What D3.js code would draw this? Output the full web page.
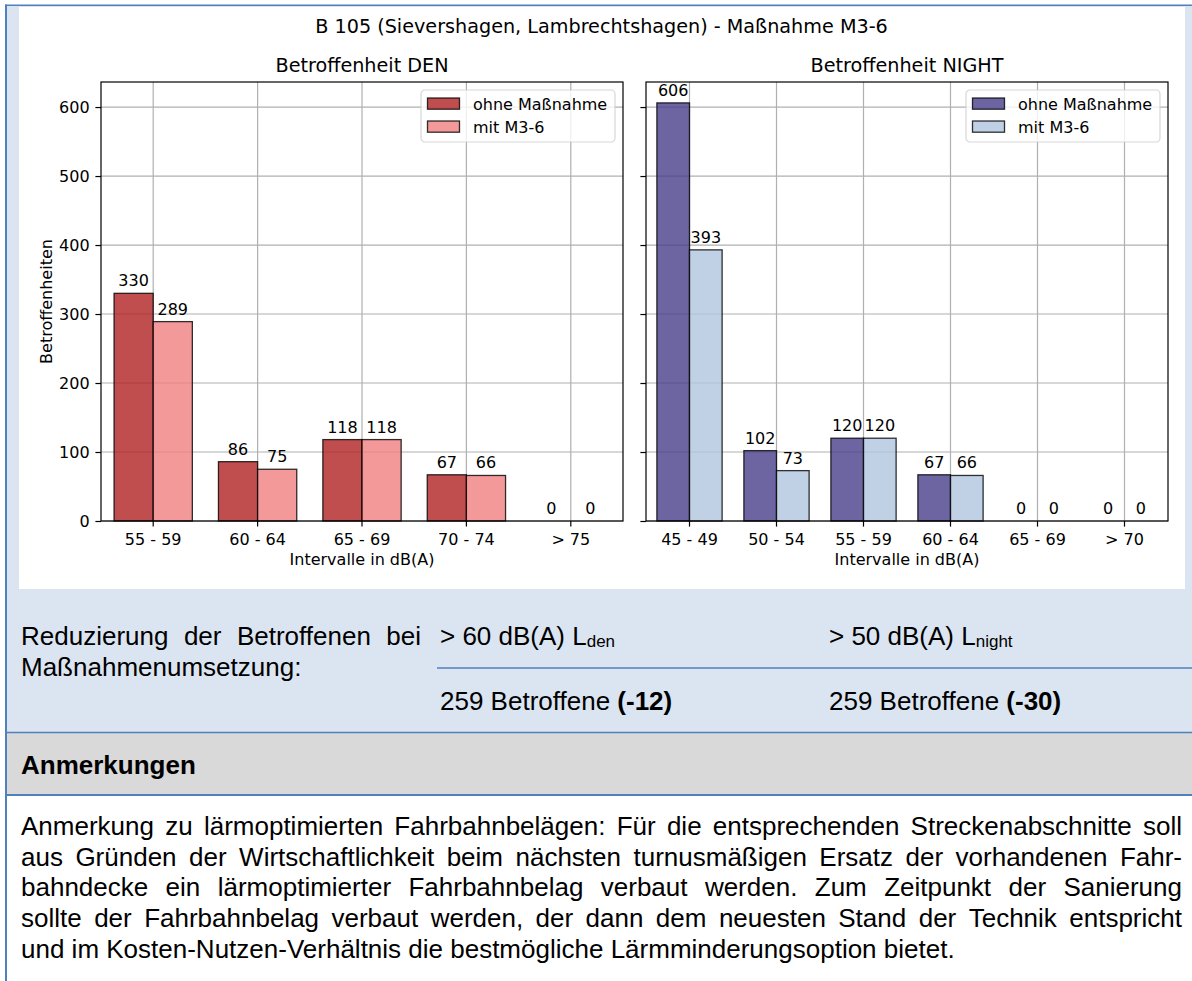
<!DOCTYPE html>
<html>
<head>
<meta charset="utf-8">
<script src="https://cdn.jsdelivr.net/npm/d3@7"></script>
<style>
  body { margin: 0; background: #fff; }
  svg { display: block; }
  .mpl { font-family: "DejaVu Sans", sans-serif; }
  .doc { font-family: "Liberation Sans", Arial, sans-serif; }
</style>
</head>
<body>
<script>
// ---- data ----
const suptitle = "B 105 (Sievershagen, Lambrechtshagen) - Maßnahme M3-6";
const seriesNames = ["ohne Maßnahme", "mit M3-6"];
const denCategories = ["55 - 59", "60 - 64", "65 - 69", "70 - 74", "> 75"];
const denOhne = [330, 86, 118, 67, 0];
const denMit = [289, 75, 118, 66, 0];
const nightCategories = ["45 - 49", "50 - 54", "55 - 59", "60 - 64", "65 - 69", "> 70"];
const nightOhne = [606, 102, 120, 67, 0, 0];
const nightMit = [393, 73, 120, 66, 0, 0];
const yTicks = [0, 100, 200, 300, 400, 500, 600];

const reduLines = ["Reduzierung der Betroffenen bei", "Maßnahmenumsetzung:"];
const noteLines = [
  "Anmerkung zu lärmoptimierten Fahrbahnbelägen: Für die entsprechenden Streckenabschnitte soll",
  "aus Gründen der Wirtschaftlichkeit beim nächsten turnusmäßigen Ersatz der vorhandenen Fahr-",
  "bahndecke ein lärmoptimierter Fahrbahnbelag verbaut werden. Zum Zeitpunkt der Sanierung",
  "sollte der Fahrbahnbelag verbaut werden, der dann dem neuesten Stand der Technik entspricht",
  "und im Kosten-Nutzen-Verhältnis die bestmögliche Lärmminderungsoption bietet."
];

const W = 1192, H = 981;
const blue = "#4f81bd";
const svg = d3.select("body").append("svg").attr("width", W).attr("height", H);

// ---- document background / table ----
svg.append("rect").attr("width", W).attr("height", H).attr("fill", "#fff");
svg.append("rect").attr("x", 7).attr("y", 6).attr("width", W - 7).attr("height", 726).attr("fill", "#dbe5f1");
svg.append("rect").attr("x", 7).attr("y", 733).attr("width", W - 7).attr("height", 61).attr("fill", "#d9d9d9");
svg.append("rect").attr("x", 19).attr("y", 7).attr("width", 1166).attr("height", 582).attr("fill", "#fff");

const hline = (x1, x2, yy, w) => svg.append("line")
  .attr("x1", x1).attr("x2", x2).attr("y1", yy).attr("y2", yy)
  .attr("stroke", blue).attr("stroke-width", w);
hline(5, W, 5.25, 1.5);
hline(437, W, 668, 1.5);
hline(5, W, 732.5, 1.5);
hline(5, W, 795, 2);
svg.append("line").attr("x1", 6).attr("x2", 6).attr("y1", 4.5).attr("y2", H)
  .attr("stroke", blue).attr("stroke-width", 2);

// ---- chart ----
const chart = svg.append("g").attr("class", "mpl");
const plotTop = 82, plotBottom = 521;
const yMax = d3.max([...denOhne, ...denMit, ...nightOhne, ...nightMit]) * 1.05;
const y = d3.scaleLinear().domain([0, yMax]).range([plotBottom, plotTop]);

chart.append("text").attr("x", 601.5).attr("y", 32.5).attr("text-anchor", "middle")
  .attr("font-size", 19.2).text(suptitle);

const panels = [
  {title: "Betroffenheit DEN", cats: denCategories, a: denOhne, b: denMit,
   ca: "firebrick", cb: "lightcoral", x0: 101, x1: 623, ylabels: true},
  {title: "Betroffenheit NIGHT", cats: nightCategories, a: nightOhne, b: nightMit,
   ca: "darkslateblue", cb: "lightsteelblue", x0: 646, x1: 1168, ylabels: false}
];

panels.forEach(p => {
  const g = chart.append("g");
  const x = d3.scaleBand().domain(p.cats).range([p.x0, p.x1]);
  const bw = x.bandwidth() * 0.375;
  const cx = c => x(c) + x.bandwidth() / 2;

  // grid
  g.selectAll(null).data(yTicks).join("line")
    .attr("x1", p.x0).attr("x2", p.x1).attr("y1", d => y(d)).attr("y2", d => y(d))
    .attr("stroke", "#b0b0b0").attr("stroke-width", 1.2);
  g.selectAll(null).data(p.cats).join("line")
    .attr("x1", cx).attr("x2", cx).attr("y1", plotTop).attr("y2", plotBottom)
    .attr("stroke", "#b0b0b0").attr("stroke-width", 1.2);

  // bars
  const series = [
    {vals: p.a, color: p.ca, off: -bw},
    {vals: p.b, color: p.cb, off: 0}
  ];
  series.forEach(s => {
    g.selectAll(null).data(p.cats).join("rect")
      .attr("x", (c) => cx(c) + s.off)
      .attr("width", bw)
      .attr("y", (c, i) => y(s.vals[i]))
      .attr("height", (c, i) => y(0) - y(s.vals[i]))
      .attr("fill", s.color).attr("fill-opacity", 0.8)
      .attr("stroke", "#000").attr("stroke-opacity", 0.8).attr("stroke-width", 1.3);
    g.selectAll(null).data(p.cats).join("text")
      .attr("x", (c) => cx(c) + s.off + bw / 2)
      .attr("y", (c, i) => y(s.vals[i]) - 7)
      .attr("text-anchor", "middle").attr("font-size", 16)
      .text((c, i) => s.vals[i]);
  });

  // spines
  g.append("rect").attr("x", p.x0).attr("y", plotTop)
    .attr("width", p.x1 - p.x0).attr("height", plotBottom - plotTop)
    .attr("fill", "none").attr("stroke", "#000").attr("stroke-width", 1.2);

  // axes
  const ya = g.append("g").attr("transform", `translate(${p.x0},0)`)
    .call(d3.axisLeft(y).tickValues(yTicks).tickSize(5.6).tickPadding(5.8)
      .tickFormat(p.ylabels ? d3.format("d") : () => ""));
  const xa = g.append("g").attr("transform", `translate(0,${plotBottom})`)
    .call(d3.axisBottom(x).tickSize(5.6).tickPadding(7));
  [ya, xa].forEach(a => {
    a.select(".domain").remove();
    a.selectAll("line").attr("stroke", "#000").attr("stroke-width", 1.2);
    a.selectAll("text").attr("font-family", "DejaVu Sans").attr("font-size", 16).attr("fill", "#000");
  });

  g.append("text").attr("x", (p.x0 + p.x1) / 2).attr("y", 565)
    .attr("text-anchor", "middle").attr("font-size", 16).text("Intervalle in dB(A)");
  g.append("text").attr("x", (p.x0 + p.x1) / 2).attr("y", 72)
    .attr("text-anchor", "middle").attr("font-size", 19.2).text(p.title);

  // legend
  const lx = p.x1 - 8 - 194, ly = plotTop + 8;
  const lg = g.append("g").attr("transform", `translate(${lx},${ly})`);
  lg.append("rect").attr("width", 194).attr("height", 52).attr("rx", 4)
    .attr("fill", "#fff").attr("fill-opacity", 0.8)
    .attr("stroke", "#ccc").attr("stroke-opacity", 0.8).attr("stroke-width", 1.2);
  [p.ca, p.cb].forEach((c, i) => {
    lg.append("rect").attr("x", 6.5).attr("y", 8 + i * 23).attr("width", 32).attr("height", 11.2)
      .attr("fill", c).attr("fill-opacity", 0.8)
      .attr("stroke", "#000").attr("stroke-opacity", 0.8).attr("stroke-width", 1.3);
    lg.append("text").attr("x", 52).attr("y", 19.5 + i * 23)
      .attr("font-size", 16).text(seriesNames[i]);
  });
});

chart.append("text").attr("transform", "translate(52,301.5) rotate(-90)")
  .attr("text-anchor", "middle").attr("font-size", 16).text("Betroffenheiten");

// ---- document text ----
const doc = svg.append("g").attr("class", "doc").attr("font-size", 26).attr("fill", "#000");

function justified(line, x, yb, width) {
  const words = line.split(" ");
  const ts = words.map(w => doc.append("text").attr("y", yb).text(w));
  const widths = ts.map(t => t.node().getComputedTextLength());
  const gap = (width - d3.sum(widths)) / (words.length - 1);
  let cx = x;
  ts.forEach((t, i) => { t.attr("x", cx); cx += widths[i] + gap; });
}

justified(reduLines[0], 21, 645, 400);
doc.append("text").attr("x", 21).attr("y", 676).text(reduLines[1]);

const den = doc.append("text").attr("x", 440).attr("y", 645).text("> 60 dB(A) L");
den.append("tspan").attr("font-size", 17).attr("dy", 2).text("den");
const night = doc.append("text").attr("x", 829).attr("y", 645).text("> 50 dB(A) L");
night.append("tspan").attr("font-size", 17).attr("dy", 2).text("night");

const r1 = doc.append("text").attr("x", 440).attr("y", 710).text("259 Betroffene ");
r1.append("tspan").attr("font-weight", "bold").text("(-12)");
const r2 = doc.append("text").attr("x", 829).attr("y", 710).text("259 Betroffene ");
r2.append("tspan").attr("font-weight", "bold").text("(-30)");

doc.append("text").attr("x", 21).attr("y", 774).attr("font-weight", "bold").text("Anmerkungen");

noteLines.forEach((l, i) => {
  const yb = 835 + i * 30.7;
  if (i < noteLines.length - 1) justified(l, 21, yb, 1161);
  else doc.append("text").attr("x", 21).attr("y", yb).text(l);
});
</script>
</body>
</html>
